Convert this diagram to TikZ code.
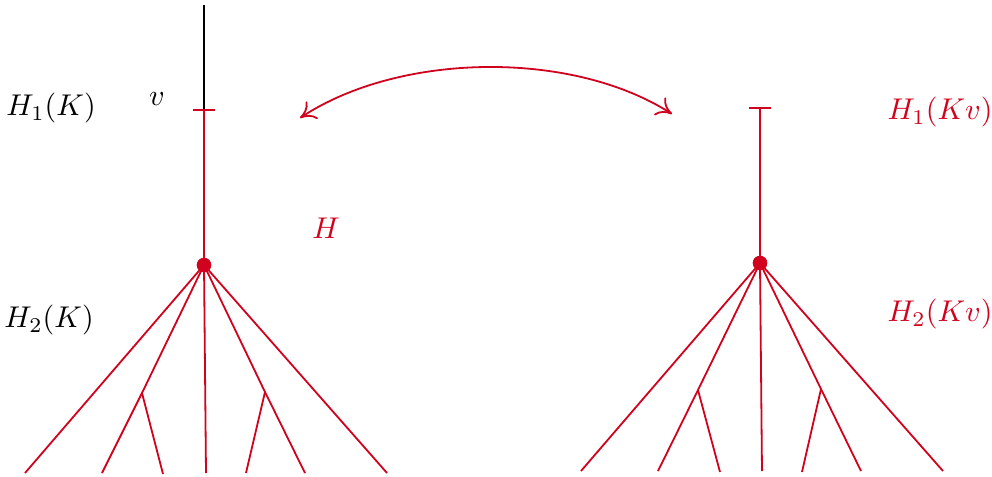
\documentclass[tikz,border=0pt]{standalone}
\usetikzlibrary{arrows.meta}
\definecolor{crim}{RGB}{208,2,30}
\begin{document}
\begin{tikzpicture}[x=0.3333pt,y=-0.3333pt,
  edge/.style={crim,line width=0.6pt},
  lbl/.style={inner sep=0pt,font=\fontsize{10}{12}\selectfont},
  dotnode/.style={circle,fill=crim,inner sep=0pt,minimum size=4.8pt}]
\useasboundingbox (0,0) rectangle (992,477);
% left tree
\coordinate (Ltop) at (204,5);
\coordinate (Lv) at (204,110);
\coordinate (Lt1) at (193,110);
\coordinate (Lt2) at (215,110);
\node[dotnode] (Lr) at (204,265) {};
\coordinate (La) at (25,473);
\coordinate (Lj1) at (142,393);
\coordinate (Lb) at (102,473);
\coordinate (Lc) at (163,474);
\coordinate (Ld) at (206,473);
\coordinate (Lj2) at (265,392);
\coordinate (Le) at (246,473);
\coordinate (Lf) at (305,473);
\coordinate (Lg) at (387,473);
\draw[line width=0.6pt] (Ltop) -- (Lv);
\draw[edge] (Lt1) -- (Lt2);
\draw[edge] (Lv) -- (Lr.center);
\draw[edge] (Lr.center) -- (La);
\draw[edge] (Lr.center) -- (Lj1) -- (Lb);
\draw[edge] (Lj1) -- (Lc);
\draw[edge] (Lr.center) -- (Ld);
\draw[edge] (Lr.center) -- (Lj2) -- (Lf);
\draw[edge] (Lj2) -- (Le);
\draw[edge] (Lr.center) -- (Lg);
\node[dotnode] at (Lr) {};
% right tree
\coordinate (Rv) at (760,108);
\coordinate (Rt1) at (749,108);
\coordinate (Rt2) at (771,108);
\node[dotnode] (Rr) at (760,263) {};
\coordinate (Ra) at (581,471);
\coordinate (Rj1) at (698,390);
\coordinate (Rb) at (658,471);
\coordinate (Rc) at (720,472);
\coordinate (Rd) at (762,471);
\coordinate (Rj2) at (821,389);
\coordinate (Re) at (802,472);
\coordinate (Rf) at (861,471);
\coordinate (Rg) at (943,471);
\draw[edge] (Rt1) -- (Rt2);
\draw[edge] (Rv) -- (Rr.center);
\draw[edge] (Rr.center) -- (Ra);
\draw[edge] (Rr.center) -- (Rj1) -- (Rb);
\draw[edge] (Rj1) -- (Rc);
\draw[edge] (Rr.center) -- (Rd);
\draw[edge] (Rr.center) -- (Rj2) -- (Rf);
\draw[edge] (Rj2) -- (Re);
\draw[edge] (Rr.center) -- (Rg);
\node[dotnode] at (Rr) {};
% arrow
\coordinate (A1) at (300,118);
\coordinate (A2) at (672,114);
\draw[edge,{To[length=5pt,width=7pt]}-{To[length=5pt,width=7pt]}] (A1) .. controls (400,52) and (572,50) .. (A2);
% labels
\node[lbl] (h1k) at (51,108) {$H_1(K)$};
\node[lbl] (vv) at (157,99) {$v$};
\node[lbl] (h2k) at (49,320) {$H_2(K)$};
\node[lbl,text=crim] (hh) at (326,228) {$H$};
\node[lbl,text=crim] (h1kv) at (940,112) {$H_1(Kv)$};
\node[lbl,text=crim] (h2kv) at (940,314) {$H_2(Kv)$};
\end{tikzpicture}
\end{document}
